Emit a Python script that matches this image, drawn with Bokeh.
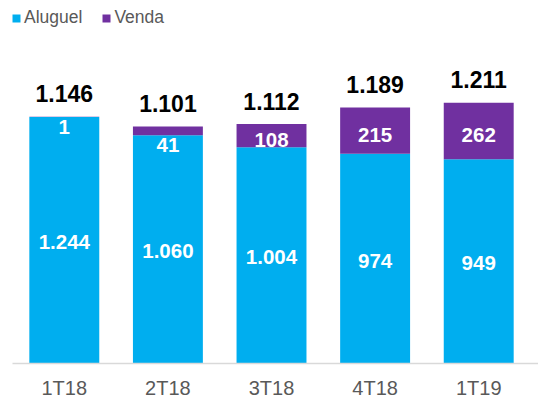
from bokeh.plotting import figure
from bokeh.models import ColumnDataSource, Range1d, FixedTicker, Legend, LegendItem
from bokeh.embed import file_html
from bokeh.resources import INLINE
from bokeh.core.properties import value

quarters = ["1T18", "2T18", "3T18", "4T18", "1T19"]
aluguel = [1145, 1060, 1004, 974, 949]
venda = [1, 41, 108, 215, 262]
aluguel_labels = ["1.244", "1.060", "1.004", "974", "949"]

FONT = "Liberation Sans"
C_AL = "#00AEEF"
C_VE = "#7030A0"

xs = list(range(len(quarters)))
totals = [a + v for a, v in zip(aluguel, venda)]
total_labels = [f"{t:,}".replace(",", ".") for t in totals]
venda_labels = [str(v) for v in venda]

src = ColumnDataSource(dict(
    x=xs, al=aluguel, ve=venda, top=totals,
    al_mid=[a / 2 for a in aluguel],
    al_lab=aluguel_labels, ve_lab=venda_labels, tot_lab=total_labels,
))

small = [v < 60 for v in venda]
ve_src_big = ColumnDataSource(dict(
    x=[x for x, s in zip(xs, small) if not s],
    y=[a + v / 2 for a, v, s in zip(aluguel, venda, small) if not s],
    t=[l for l, s in zip(venda_labels, small) if not s],
))
ve_src_small = ColumnDataSource(dict(
    x=[x for x, s in zip(xs, small) if s],
    y=[a for a, s in zip(aluguel, small) if s],
    t=[l for l, s in zip(venda_labels, small) if s],
))

px_per_unit = 0.2153
frame_h = 363
p = figure(frame_width=526, frame_height=frame_h, output_backend="svg", toolbar_location=None,
           x_range=Range1d(-0.5, 4.577), y_range=Range1d(0, frame_h / px_per_unit),
           y_axis_location=None, min_border_left=12, min_border_right=0,
           min_border_top=0, min_border_bottom=0)
p.outline_line_color = None
p.xgrid.visible = False
p.ygrid.visible = False

w = 0.675
r_al = p.vbar(x="x", bottom=0, top="al", width=w, source=src, color=C_AL, line_color=None)
r_ve = p.vbar(x="x", bottom="al", top="top", width=w, source=src, color=C_VE, line_color=None)

p.text(x="x", y="al_mid", text="al_lab", source=src, text_font=value(FONT),
       text_font_style="bold", text_font_size="20.5px", text_color="white",
       text_align="center", text_baseline="middle", y_offset=2)
p.text(x="x", y="y", text="t", source=ve_src_big, text_font=value(FONT),
       text_font_style="bold", text_font_size="20.5px", text_color="white",
       text_align="center", text_baseline="middle", y_offset=4)
p.text(x="x", y="y", text="t", source=ve_src_small, text_font=value(FONT),
       text_font_style="bold", text_font_size="20.5px", text_color="white",
       text_align="center", text_baseline="middle", y_offset=10)
p.text(x="x", y="top", text="tot_lab", source=src, text_font=value(FONT),
       text_font_style="bold", text_font_size="23px", text_color="black",
       text_align="center", text_baseline="middle", y_offset=-23)

ax = p.xaxis[0]
ax.ticker = FixedTicker(ticks=xs)
ax.major_label_overrides = {i: q for i, q in zip(xs, quarters)}
ax.axis_line_color = "#D9D9D9"
ax.axis_line_width = 1.5
ax.major_tick_line_color = None
ax.minor_tick_line_color = None
ax.major_tick_out = 0
ax.major_tick_in = 0
ax.major_label_text_font = FONT
ax.major_label_text_font_size = "20px"
ax.major_label_text_color = "#595959"
ax.major_label_standoff = 13

legend = Legend(items=[LegendItem(label="Aluguel", renderers=[r_al]),
                       LegendItem(label="Venda", renderers=[r_ve])],
                orientation="horizontal", location=(-1, frame_h - 28),
                glyph_width=10, glyph_height=10, label_standoff=3, spacing=19,
                padding=0, margin=0, border_line_color=None, background_fill_alpha=0,
                label_text_font=FONT, label_text_font_size="17.5px",
                label_text_color="#595959")
p.add_layout(legend, "center")

open("out.html", "w").write(file_html(p, INLINE))
